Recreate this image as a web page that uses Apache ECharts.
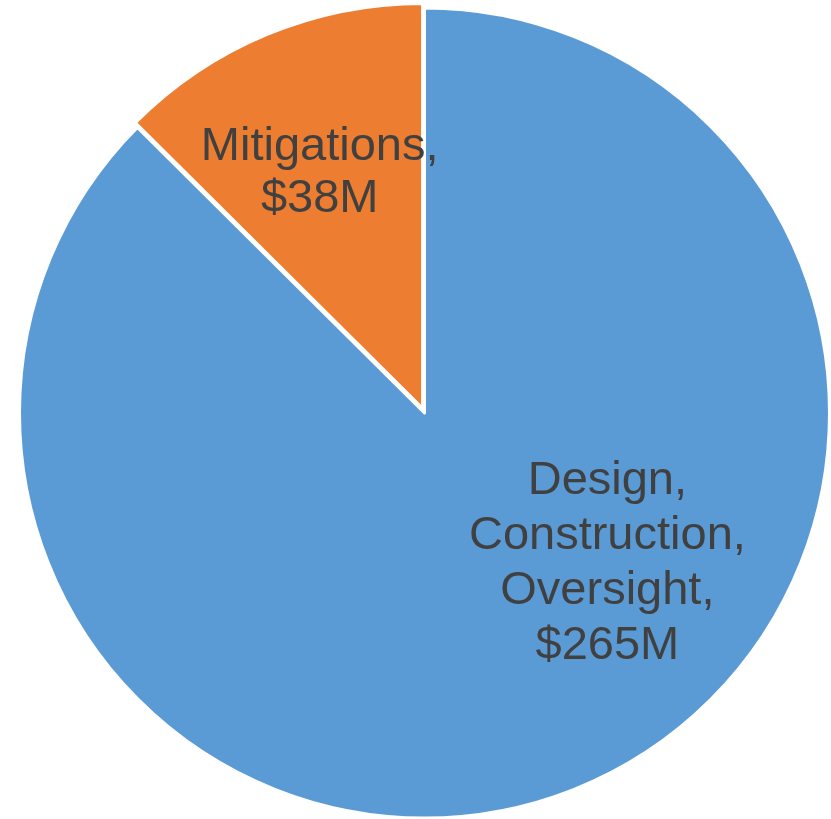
<!DOCTYPE html>
<html>
<head>
<meta charset="utf-8">
<script src="https://cdn.jsdelivr.net/npm/echarts@6/dist/echarts.min.js"></script>
<style>
html,body{margin:0;padding:0;background:#fff;}
#chart{width:831px;height:819px;}
</style>
</head>
<body>
<div id="chart"></div>
<script>
var categories = ['Design,\nConstruction,\nOversight,', 'Mitigations,'];
var values = [265, 38];
var valueLabels = ['$265M', '$38M'];
var colors = ['#5B9BD5', '#ED7D31'];

var chart = echarts.init(document.getElementById('chart'), null, {renderer: 'canvas'});
var data = categories.map(function (c, i) {
  return {
    name: c,
    value: values[i],
    selected: i === 1,
    itemStyle: {color: colors[i]},
    label: {lineHeight: i === 0 ? 55 : 52}
  };
});
var offsets = [[104, -39], [-24, -46]];
chart.setOption({
  animation: false,
  series: [{
    type: 'pie',
    center: [424.5, 413],
    radius: 405,
    startAngle: 90,
    clockwise: true,
    selectedMode: 'single',
    selectedOffset: 5,
    data: data,
    itemStyle: {borderColor: '#ffffff', borderWidth: 3},
    emphasis: {disabled: true},
    label: {
      show: true,
      position: 'inside',
      formatter: function (p) { return p.name + '\n' + valueLabels[p.dataIndex]; },
      color: '#404040',
      fontSize: 47,
      fontFamily: 'Liberation Sans, Arial, sans-serif',
      align: 'center'
    },
    labelLine: {show: false},
    labelLayout: function (p) {
      var o = offsets[p.dataIndex];
      return {dx: o[0], dy: o[1]};
    }
  }]
});
</script>
</body>
</html>
